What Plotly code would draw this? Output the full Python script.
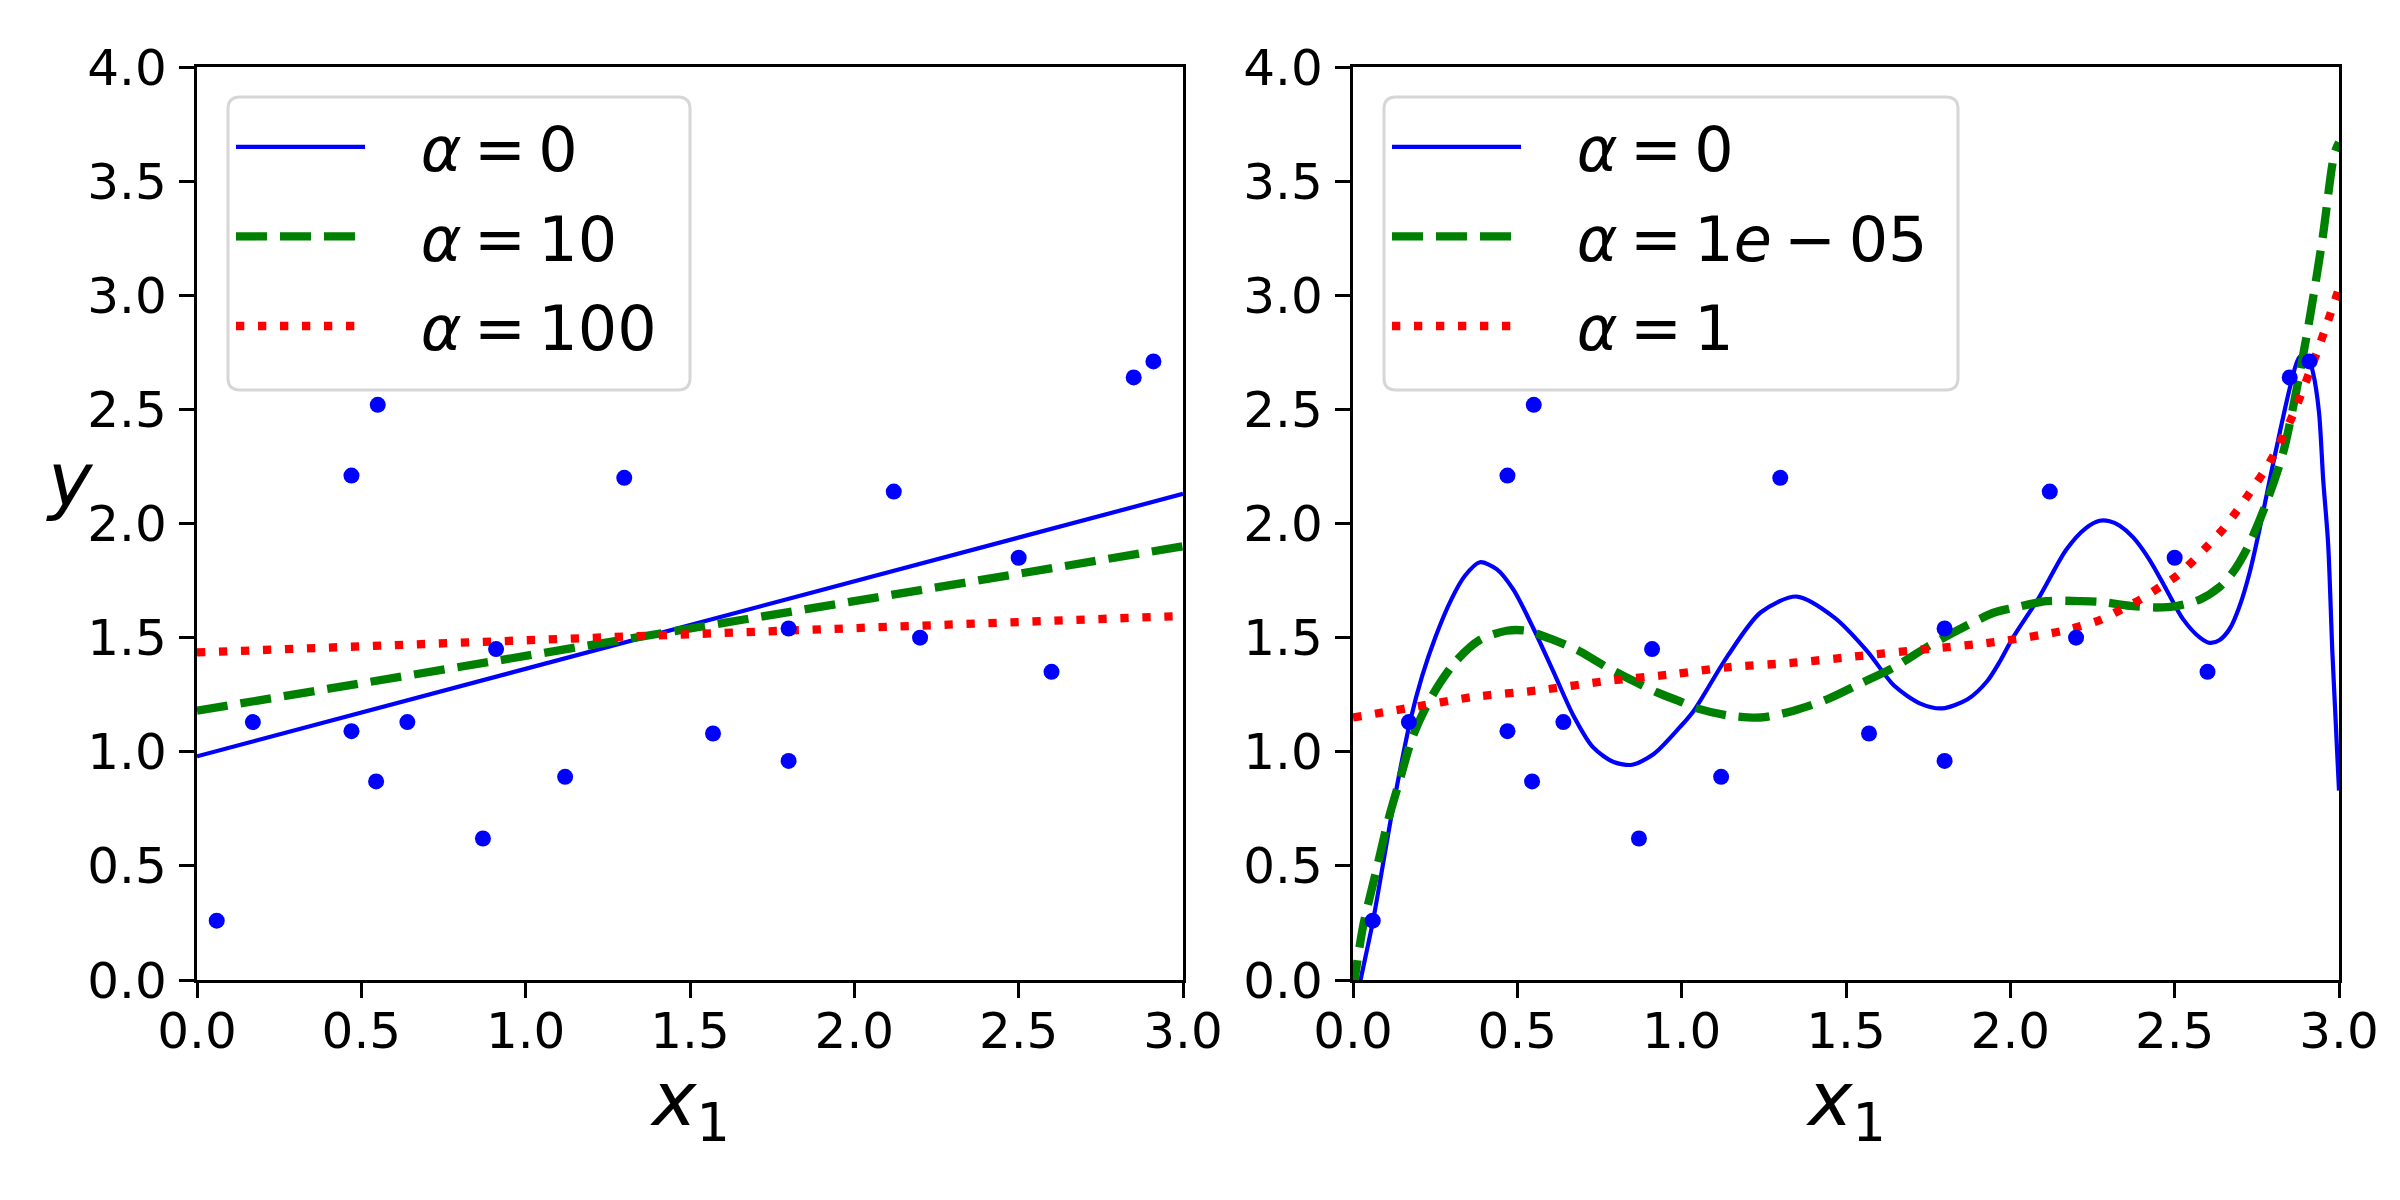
import plotly.graph_objects as go

# ---------------- data ----------------
x_pts = [0.06, 0.17, 0.47, 0.47, 0.55, 0.545, 0.64, 0.87, 0.91, 1.12,
         1.30, 1.57, 1.80, 1.80, 2.12, 2.20, 2.50, 2.60, 2.85, 2.91]
y_pts = [0.26, 1.13, 1.09, 2.21, 2.52, 0.87, 1.13, 0.62, 1.45, 0.89,
         2.20, 1.08, 1.54, 0.96, 2.14, 1.50, 1.85, 1.35, 2.64, 2.71]

# left panel: linear ridge models (straight lines)
lin_x = [0.0, 3.0]
lin_a0 = [0.98, 2.13]
lin_a10 = [1.18, 1.90]
lin_a100 = [1.435, 1.595]

# right panel: polynomial ridge models (curves)
poly_a0_x = [0.0, 0.023, 0.061, 0.122, 0.175, 0.21, 0.25, 0.30, 0.34, 0.386,
             0.437, 0.488, 0.549, 0.61, 0.67, 0.73, 0.793, 0.849, 0.915, 0.996,
             1.037, 1.14, 1.24, 1.35, 1.463, 1.565, 1.646, 1.728, 1.793, 1.87,
             1.93, 1.97, 2.008, 2.089, 2.17, 2.23, 2.272, 2.302, 2.333, 2.373,
             2.424, 2.475, 2.526, 2.577, 2.607, 2.637, 2.668, 2.698, 2.729, 2.759,
             2.789, 2.82, 2.855, 2.88, 2.905, 2.921, 2.939, 2.952, 2.967, 2.98, 3.0]
poly_a0_y = [-0.17, 0.0, 0.26, 0.76, 1.14, 1.33, 1.50, 1.67, 1.77, 1.83,
             1.80, 1.71, 1.54, 1.35, 1.16, 1.02, 0.955, 0.943, 0.99, 1.11,
             1.18, 1.42, 1.61, 1.68, 1.59, 1.44, 1.29, 1.21, 1.19, 1.23,
             1.31, 1.40, 1.50, 1.68, 1.885, 1.98, 2.012, 2.01, 1.99, 1.94,
             1.84, 1.71, 1.58, 1.50, 1.477, 1.49, 1.54, 1.64, 1.79, 1.98,
             2.19, 2.40, 2.62, 2.73, 2.73, 2.66, 2.49, 2.19, 1.91, 1.43, 0.83]

poly_a1e5_x = [0.0, 0.03, 0.071, 0.107, 0.142, 0.18, 0.22, 0.264, 0.315, 0.386,
               0.467, 0.528, 0.61, 0.69, 0.772, 0.854, 0.925, 0.996, 1.047, 1.138,
               1.24, 1.341, 1.443, 1.545, 1.646, 1.748, 1.85, 1.951, 2.008, 2.11,
               2.21, 2.272, 2.373, 2.444, 2.505, 2.577, 2.637, 2.678, 2.723, 2.779,
               2.83, 2.87, 2.911, 2.95, 2.986, 3.0]
poly_a1e5_y = [-0.05, 0.23, 0.48, 0.70, 0.875, 1.06, 1.19, 1.30, 1.40, 1.49,
               1.53, 1.53, 1.49, 1.44, 1.37, 1.31, 1.26, 1.22, 1.19, 1.16,
               1.15, 1.18, 1.23, 1.30, 1.37, 1.46, 1.54, 1.61, 1.63, 1.66,
               1.66, 1.657, 1.638, 1.632, 1.638, 1.667, 1.722, 1.788, 1.898, 2.09,
               2.31, 2.58, 2.90, 3.25, 3.62, 3.67]

poly_a1_x = [0.0, 0.163, 0.366, 0.569, 0.772, 0.976, 1.138, 1.341, 1.545, 1.748,
             1.951, 2.16, 2.272, 2.333, 2.394, 2.45, 2.506, 2.556, 2.601, 2.647,
             2.687, 2.726, 2.79, 2.855, 2.92, 2.96, 3.0]
poly_a1_y = [1.15, 1.19, 1.24, 1.27, 1.31, 1.34, 1.37, 1.39, 1.42, 1.45,
             1.48, 1.53, 1.577, 1.62, 1.666, 1.717, 1.77, 1.836, 1.903, 1.975,
             2.05, 2.13, 2.27, 2.46, 2.70, 2.86, 3.03]

x_ticks = [0.0, 0.5, 1.0, 1.5, 2.0, 2.5, 3.0]
y_ticks = [0.0, 0.5, 1.0, 1.5, 2.0, 2.5, 3.0, 3.5, 4.0]

left_labels = ["<i>α</i>\u2009=\u20090", "<i>α</i>\u2009=\u200910", "<i>α</i>\u2009=\u2009100"]
right_labels = ["<i>α</i>\u2009=\u20090", "<i>α</i>\u2009=\u20091<i>e</i>\u2009−\u200905",
                "<i>α</i>\u2009=\u20091"]

# ---------------- styling ----------------
FONT = "DejaVu Sans"
BLUE, GREEN, RED = "#0000ff", "#008000", "#ff0000"
LW_THIN, LW_THICK = 4.2, 8.3
DASH = "31px,13px"
DOT = "8.3px,13.7px"
PAD = "\u2002\u00a0"
W, H = 2400, 1200

fig = go.Figure()

def add_lines(xs_list, ys_list, labels, xa, ya, legend, shape):
    styles = [(BLUE, LW_THIN, "solid"), (GREEN, LW_THICK, DASH), (RED, LW_THICK, DOT)]
    for (xs, ys), lab, (c, w, d) in zip(zip(xs_list, ys_list), labels, styles):
        fig.add_trace(go.Scatter(
            x=xs, y=ys, mode="lines", name=PAD + lab,
            line=dict(color=c, width=w, dash=d, shape=shape,
                      smoothing=0.8 if shape == "spline" else None),
            xaxis=xa, yaxis=ya, legend=legend, legendgroup=legend + lab,
        ))
    fig.add_trace(go.Scatter(
        x=x_pts, y=y_pts, mode="markers", showlegend=False,
        marker=dict(color=BLUE, size=16, line=dict(width=0)),
        xaxis=xa, yaxis=ya,
    ))

add_lines([lin_x, lin_x, lin_x], [lin_a0, lin_a10, lin_a100],
          left_labels, "x", "y", "legend", "linear")
add_lines([poly_a0_x, poly_a1e5_x, poly_a1_x], [poly_a0_y, poly_a1e5_y, poly_a1_y],
          right_labels, "x2", "y2", "legend2", "spline")

ax_common = dict(showline=True, linecolor="black", linewidth=3.3, mirror=True,
                 ticks="outside", ticklen=15, tickwidth=3.3, tickcolor="black",
                 tickfont=dict(family=FONT, size=50, color="black"),
                 showgrid=False, zeroline=False, tickformat=".1f", automargin=False)


def rounded_box(x0, y0, x1, y1, r=12):
    """legend frame path (pixel box -> paper coords) with rounded corners"""
    fx = lambda v: v / W
    fy = lambda v: 1 - v / H
    return (f"M {fx(x0 + r)} {fy(y0)} L {fx(x1 - r)} {fy(y0)} "
            f"Q {fx(x1)} {fy(y0)} {fx(x1)} {fy(y0 + r)} L {fx(x1)} {fy(y1 - r)} "
            f"Q {fx(x1)} {fy(y1)} {fx(x1 - r)} {fy(y1)} L {fx(x0 + r)} {fy(y1)} "
            f"Q {fx(x0)} {fy(y1)} {fx(x0)} {fy(y1 - r)} L {fx(x0)} {fy(y0 + r)} "
            f"Q {fx(x0)} {fy(y0)} {fx(x0 + r)} {fy(y0)} Z")


legend_style = dict(xanchor="left", yanchor="top",
                    font=dict(family=FONT, size=62, color="black"),
                    bgcolor="rgba(0,0,0,0)", borderwidth=0,
                    itemwidth=129, tracegroupgap=6)

ydom = [1 - 980 / H, 1 - 67 / H]
fig.update_layout(
    width=W, height=H, margin=dict(l=0, r=0, t=0, b=0, autoexpand=False),
    paper_bgcolor="white", plot_bgcolor="white",
    font=dict(family=FONT, color="black"),
    xaxis=dict(domain=[197 / W, 1183 / W], range=[0, 3], tickvals=x_ticks, anchor="y",
               ticklabelstandoff=-10, **ax_common),
    yaxis=dict(domain=ydom, range=[0, 4], tickvals=y_ticks, anchor="x",
               ticklabelstandoff=2, **ax_common),
    xaxis2=dict(domain=[1353 / W, 2339 / W], range=[0, 3], tickvals=x_ticks, anchor="y2",
                ticklabelstandoff=-10, **ax_common),
    yaxis2=dict(domain=ydom, range=[0, 4], tickvals=y_ticks, anchor="x2",
                ticklabelstandoff=2, **ax_common),
    legend=dict(x=231 / W, y=1 - 100 / H, **legend_style),
    legend2=dict(x=1387 / W, y=1 - 100 / H, **legend_style),
    showlegend=True,
    shapes=[
        dict(type="path", path=rounded_box(228, 97, 690, 390), xref="paper", yref="paper",
             line=dict(color="#d6d6d6", width=3), fillcolor="rgba(255,255,255,0.8)", layer="above"),
        dict(type="path", path=rounded_box(1384, 97, 1958, 390), xref="paper", yref="paper",
             line=dict(color="#d6d6d6", width=3), fillcolor="rgba(255,255,255,0.8)", layer="above"),
    ],
)

ann_font = dict(family=FONT, size=75, color="black")
fig.add_annotation(text="<i>x</i><sub>1</sub>", x=690 / W, y=1 - 1104 / H, xref="paper", yref="paper",
                   showarrow=False, font=ann_font, xanchor="center", yanchor="middle")
fig.add_annotation(text="<i>x</i><sub>1</sub>", x=1846 / W, y=1 - 1104 / H, xref="paper", yref="paper",
                   showarrow=False, font=ann_font, xanchor="center", yanchor="middle")
fig.add_annotation(text="<i>y</i>", x=70 / W, y=1 - 480 / H, xref="paper", yref="paper",
                   showarrow=False, font=ann_font, xanchor="center", yanchor="middle")

fig.write_html("out.html")
